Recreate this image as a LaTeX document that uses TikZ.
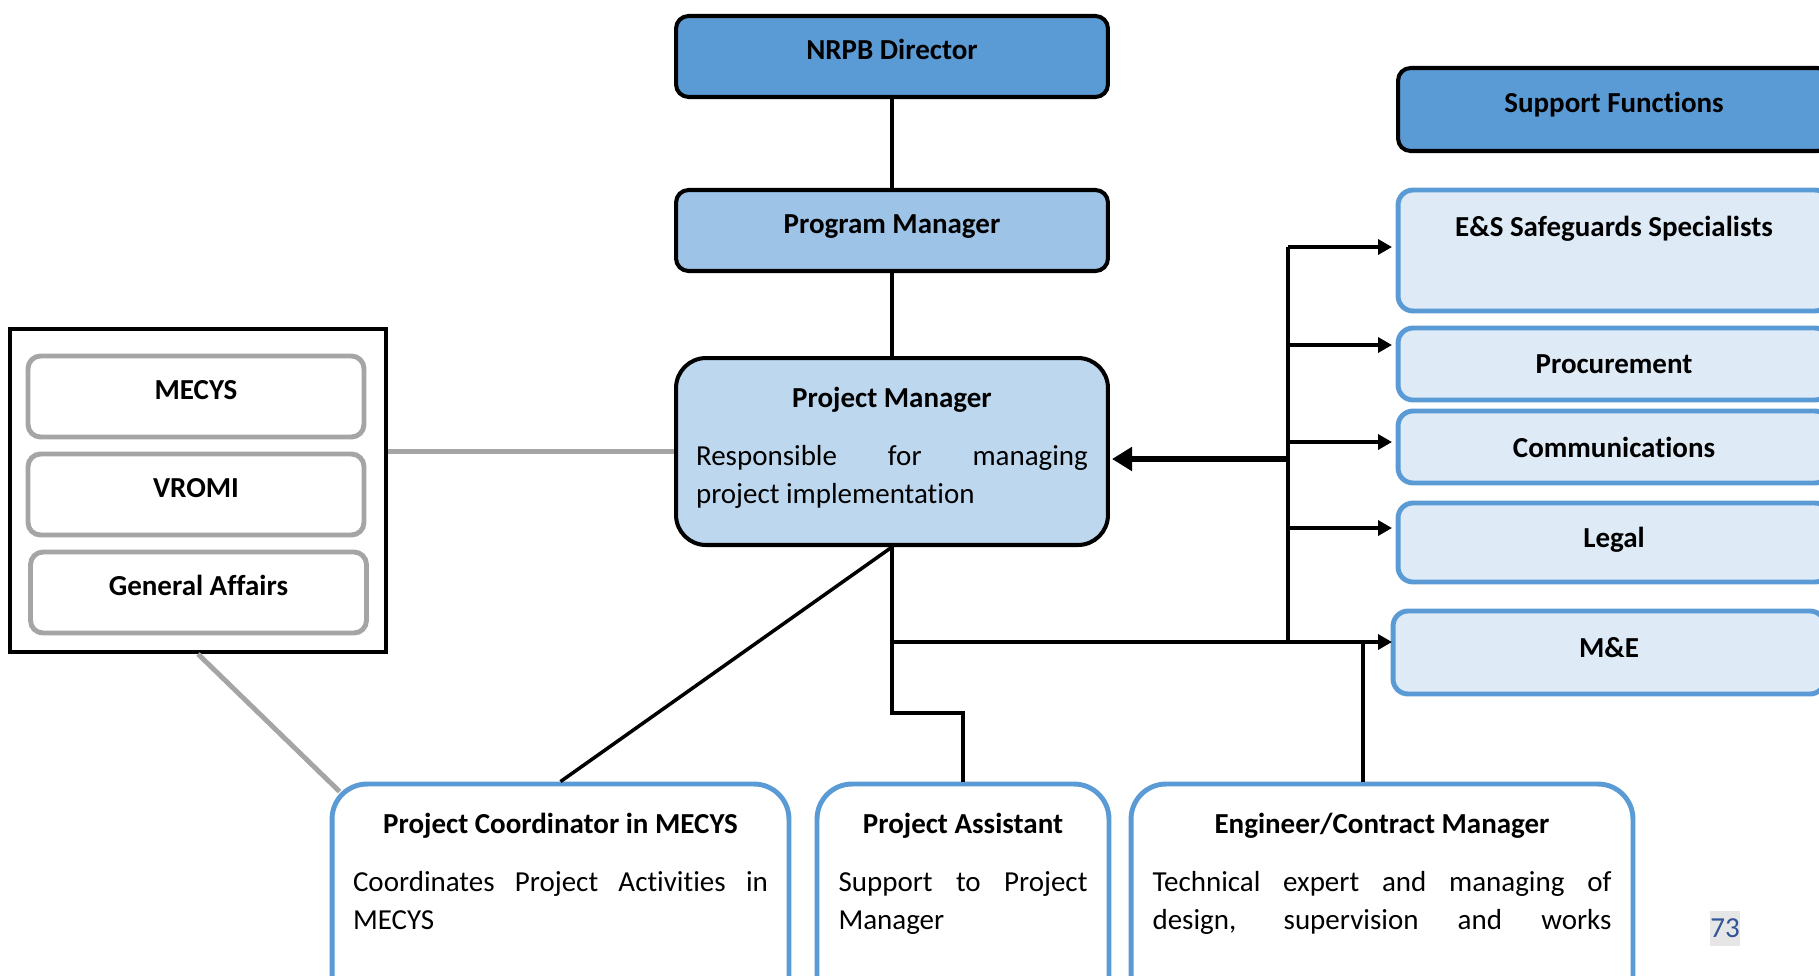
\documentclass[tikz,border=0pt]{standalone}
\usepackage{fontspec}
\setmainfont{Carlito}[Ligatures=NoCommon]
\usetikzlibrary{arrows.meta,calc}

\definecolor{darkblue}{HTML}{5B9BD5}
\definecolor{midblue}{HTML}{9DC3E6}
\definecolor{paleblue}{HTML}{BDD7EE}
\definecolor{lightblue}{HTML}{DEEBF7}
\definecolor{linegray}{HTML}{A5A5A5}
\definecolor{pagegray}{HTML}{E7E6E6}
\definecolor{pageblue}{HTML}{2F5597}

\setlength{\parindent}{0pt}
\hyphenpenalty=10000
\tolerance=10000
\hbadness=10000
\newcommand{\unittitle}[1]{{\centering\bfseries #1\par}\vspace{11.4pt}}

\begin{document}
\begin{tikzpicture}[
	x=0.02cm, y=-0.02cm,
	every node/.style={inner sep=0pt, font=\fontsize{16.5}{21.6}\selectfont},
	headbox/.style={
		draw, line width=2.3pt, rounded corners=0.25cm,
		minimum width=8.64cm, text height=0.38cm, text depth=0.25cm,
		font=\fontsize{16.5}{21.6}\selectfont\bfseries
	},
	sidebox/.style={
		draw=darkblue, fill=lightblue, line width=2.8pt, rounded corners=0.3cm,
		minimum width=8.64cm, font=\fontsize{16.5}{21.6}\selectfont\bfseries
	},
	partnerbox/.style={
		draw=linegray, fill=white, line width=2.8pt, rounded corners=0.25cm,
		minimum width=6.72cm, minimum height=1.62cm,
		text height=0.38cm, text depth=0.25cm,
		font=\fontsize{16.5}{21.6}\selectfont\bfseries
	},
	unitbox/.style={
		draw=darkblue, fill=white, line width=2.8pt, rounded corners=0.7cm,
		minimum height=4.6cm
	},
	boxtext/.style={anchor=north, align=justify},
	link/.style={draw, line width=2pt},
	graylink/.style={draw=linegray, line width=2.8pt},
	arr/.style={link, -{Triangle[length=0.28cm, width=0.3cm]}},
	bigarr/.style={draw, line width=3.4pt, -{Triangle[length=0.4cm, width=0.46cm]}}
	]

	\useasboundingbox (0,0) rectangle (1819,975);
	\fill[white] (0,0) rectangle (1819,975);
	\clip (0,0) rectangle (1819,975);

	% management chain
	\node[headbox, fill=darkblue, minimum height=1.62cm] (director) at (892,56.5) {NRPB Director};
	\node[headbox, fill=midblue, minimum height=1.62cm] (progman) at (892,230.5) {Program Manager};
	\node[draw, line width=2.3pt, fill=paleblue, rounded corners=0.6cm, minimum width=8.64cm, minimum height=3.74cm] (projman) at (892,451.5) {};
	\node[boxtext, text width=7.84cm] (projmanText) at (892,387)
		{\unittitle{Project Manager}Responsible for managing\linebreak project implementation};

	% partner institutions
	\node[draw, line width=2.3pt, minimum width=7.52cm, minimum height=6.46cm] (partners) at (198,490.5) {};
	\node[partnerbox] (mecys) at (196,396.5) {MECYS};
	\node[partnerbox] (vromi) at (196,494.5) {VROMI};
	\node[partnerbox] (general) at (198.5,592.5) {General Affairs};

	% support functions
	\node[headbox, fill=darkblue, minimum height=1.66cm] (support) at (1614,109.5) {Support Functions};
	\node[sidebox, minimum height=2.42cm] (safeguards) at (1614,250.5) {};
	\node[font=\fontsize{16.5}{21.6}\selectfont\bfseries] (safeguardsText) at (1614,229) {E\&S Safeguards Specialists};
	\node[sidebox, minimum height=1.44cm] (procurement) at (1614,364) {Procurement};
	\node[sidebox, minimum height=1.44cm] (comms) at (1614,447) {Communications};
	\node[sidebox, minimum height=1.58cm, text depth=0.22cm] (legal) at (1614,542.5) {Legal};
	\node[sidebox, minimum height=1.66cm, text depth=0.22cm] (me) at (1609,652.5) {M\&E};

	% project team
	\node[unitbox, minimum width=9.14cm] (coord) at (560.5,899) {};
	\node[boxtext, text width=8.3cm] (coordText) at (560.5,813)
		{\unittitle{Project Coordinator in MECYS}Coordinates Project Activities in MECYS};
	\node[unitbox, minimum width=5.84cm] (assist) at (963,899) {};
	\node[boxtext, text width=4.98cm] (assistText) at (963,813)
		{\unittitle{Project Assistant}Support to Project Manager};
	\node[unitbox, minimum width=10.04cm] (engineer) at (1382,899) {};
	\node[boxtext, text width=9.18cm] (engineerText) at (1382,813)
		{\unittitle{Engineer/Contract Manager}Technical expert and managing of\linebreak design, supervision and works{\parfillskip=0pt\par}};

	\node[fill=pagegray, text=pageblue, minimum width=0.6cm, minimum height=0.7cm] (pageno) at (1725,928) {73};

	% connectors
	\coordinate (assistTurn) at (892,713);
	\coordinate (busTop) at (1288,247);
	\coordinate (busBot) at (1288,642);
	\coordinate (meIn) at (1392,642);
	\coordinate (engUp) at (1363,642);
	\coordinate (pmIn) at (1112,459);

	\draw[link] (director) -- (progman);
	\draw[link] (progman) -- (projman);
	\draw[graylink] (projman.west) -- (projman.west -| partners.east);
	\draw[graylink] (partners.south) -- ($(coord.north west)+(10,10)$);
	\draw[link] (projman.south) -- (coord.north);
	\draw[link] (projman.south) -- (assistTurn) -| (assist.north);
	\draw[arr] (projman.south |- meIn) -- (meIn);
	\draw[link] (engUp) -- (engUp |- engineer.north);
	\draw[link] (busTop) -- (busBot);
	\foreach \tip/\ypos in {esIn/247, prIn/345, coIn/442, lgIn/528} {
		\coordinate (\tip) at (1392,\ypos);
		\draw[arr] (busTop |- \tip) -- (\tip);
	}
	\draw[bigarr] (busTop |- pmIn) -- (pmIn);

\end{tikzpicture}
\end{document}
